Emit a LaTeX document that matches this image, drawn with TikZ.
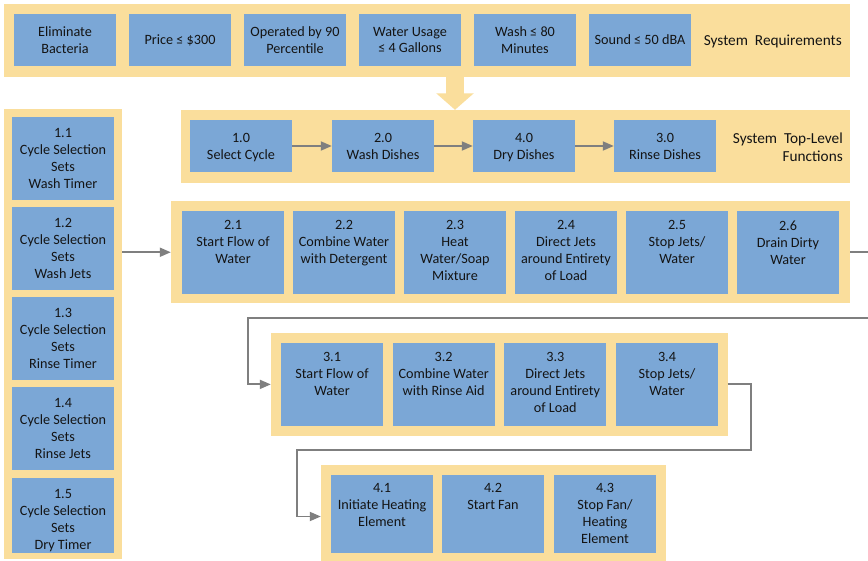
\documentclass[tikz,border=0pt]{standalone}
\usepackage{fontspec}
\setmainfont{Carlito}
\usetikzlibrary{arrows.meta}

\definecolor{panelfill}{HTML}{FADE9C}
\definecolor{cellfill}{HTML}{7BA7D6}
\definecolor{wire}{HTML}{7F7F7F}
\definecolor{ink}{HTML}{141414}

% a function block: name, centre x, centre y, height, text drop from top, text
\newcommand\flowcell[6]{%
  \node[cellbox, minimum height=#4] (#1) at (#2,#3) {};
  \node[celltext, anchor=north] (#1-t) at ([yshift=-#5]#1.north) {#6};
}

\begin{document}
\begin{tikzpicture}[x=1pt, y=-1pt,
  panelbox/.style n args={2}{rectangle, fill=panelfill, draw=none, inner sep=0,
    minimum width=#1, minimum height=#2},
  cellbox/.style={rectangle, fill=cellfill, draw=none, inner sep=0, minimum width=102,
    font=\fontsize{14.2}{17}\selectfont, text=ink, align=center},
  celltext/.style={font=\fontsize{14.2}{17}\selectfont, text=ink, align=center, inner sep=0},
  tag/.style={font=\fontsize{15.3}{18}\selectfont, text=ink, inner sep=0},
  flow/.style={draw=wire, line width=1.8pt, -{Triangle[length=11pt,width=9pt]}},
]
\useasboundingbox (0,0) rectangle (868,561);
\fill[white] (0,0) rectangle (868,561);
\clip (0,0) rectangle (868,561);

% ---------- panels ----------
\node[panelbox={846}{73}]    (req)   at (427,40.5) {};
\node[panelbox={669}{73}]    (topf)  at (515.5,146.5) {};
\node[panelbox={118}{450}]   (lcol)  at (63,334) {};
\node[panelbox={679}{102.5}] (wash)  at (510.5,252.25) {};
\node[panelbox={456.5}{102.2}] (rinse) at (499.25,384.4) {};
\node[panelbox={345}{103}]   (dry)   at (493.5,516.5) {};

% ---------- system requirements ----------
\node[cellbox, minimum height=52] (r1) at (65,40)  {Eliminate\\Bacteria};
\node[cellbox, minimum height=52] (r2) at (180,40) {Price ≤ \$300};
\node[cellbox, minimum height=52] (r3) at (295,40) {Operated by 90\\Percentile};
\node[cellbox, minimum height=52] (r4) at (410,40) {Water Usage\\≤ 4 Gallons};
\node[cellbox, minimum height=52] (r5) at (525,40) {Wash ≤ 80\\Minutes};
\node[cellbox, minimum height=52] (r6) at (640,40) {Sound ≤ 50 dBA};
\node[tag, anchor=base east] (reqlabel) at (842,45.7) {System\ \ Requirements};

% requirements flow down into the top-level functions
\draw[panelfill, line width=18pt, -{Triangle[length=16.5pt,width=36.6pt]}]
  (455,75) coordinate (downstart) -- (downstart |- topf.north);

% ---------- top-level functions ----------
\flowcell{f10}{241}{146}{52}{13.5}{1.0\\Select Cycle}
\flowcell{f20}{383}{146}{52}{13.5}{2.0\\Wash Dishes}
\flowcell{f40}{524}{146}{52}{13.5}{4.0\\Dry Dishes}
\flowcell{f30}{665}{146}{52}{13.5}{3.0\\Rinse Dishes}
\node[tag, align=right, anchor=south east] (toplabel) at (843,161.5) {System\ \ Top-Level\\Functions};
\draw[flow] (f10) -- (f20);
\draw[flow] (f20) -- (f40);
\draw[flow] (f40) -- (f30);

% ---------- cycle selection ----------
\flowcell{s11}{63}{158.5}{83}{11}{1.1\\Cycle Selection\\Sets\\Wash Timer}
\flowcell{s12}{63}{248.5}{83}{11}{1.2\\Cycle Selection\\Sets\\Wash Jets}
\flowcell{s13}{63}{338.5}{83}{11}{1.3\\Cycle Selection\\Sets\\Rinse Timer}
\flowcell{s14}{63}{428.5}{83}{11}{1.4\\Cycle Selection\\Sets\\Rinse Jets}
\flowcell{s15}{63}{515.5}{75}{11}{1.5\\Cycle Selection\\Sets\\Dry Timer}

% ---------- wash ----------
\flowcell{w21}{233}{252.35}{82.7}{9.5}{2.1\\Start Flow of\\Water}
\flowcell{w22}{344}{252.35}{82.7}{9.5}{2.2\\Combine Water\\with Detergent}
\flowcell{w23}{455}{252.35}{82.7}{9.5}{2.3\\Heat\\Water/Soap\\Mixture}
\flowcell{w24}{566}{252.35}{82.7}{9.5}{2.4\\Direct Jets\\around Entirety\\of Load}
\flowcell{w25}{677}{252.35}{82.7}{9.5}{2.5\\Stop Jets/\\Water}
\flowcell{w26}{788}{252.35}{82.7}{9.5}{2.6\\Drain Dirty\\Water}

% ---------- rinse ----------
\flowcell{n31}{332}{384.2}{83}{10}{3.1\\Start Flow of\\Water}
\flowcell{n32}{443.7}{384.2}{83}{10}{3.2\\Combine Water\\with Rinse Aid}
\flowcell{n33}{555.3}{384.2}{83}{10}{3.3\\Direct Jets\\around Entirety\\of Load}
\flowcell{n34}{667}{384.2}{83}{10}{3.4\\Stop Jets/\\Water}

% ---------- dry ----------
\flowcell{d41}{382}{514}{78}{8.5}{4.1\\Initiate Heating\\Element}
\flowcell{d42}{493}{514}{78}{8.5}{4.2\\Start Fan}
\flowcell{d43}{605}{514}{78}{8.5}{4.3\\Stop Fan/\\Heating\\Element}

% ---------- connectors between stages ----------
\coordinate (washout) at (880,318.3);
\coordinate (rinsein) at (248,318.3);
\coordinate (rinseout) at (751,450);
\coordinate (dryin) at (297,450);

\draw[flow] (lcol.east |- wash.west) -- (wash.west);
\draw[flow] (wash.east) -| (washout) -- (rinsein) |- (rinse.west);
\draw[flow] (rinse.east) -| (rinseout) -- (dryin) |- (dry.west);
\end{tikzpicture}
\end{document}
